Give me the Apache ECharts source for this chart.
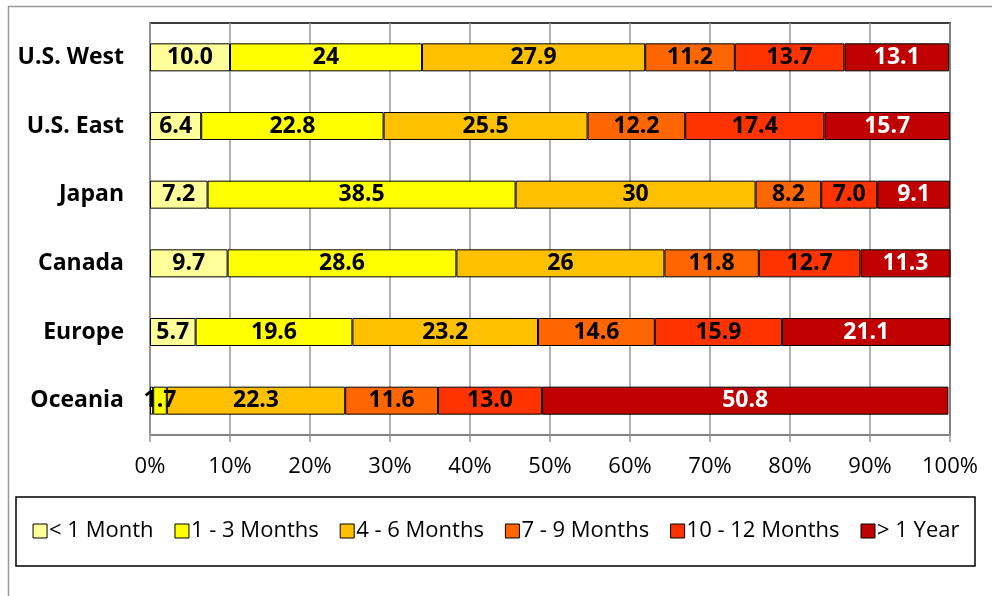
<!DOCTYPE html>
<html><head><meta charset="utf-8">
<script src="https://cdn.jsdelivr.net/npm/echarts@6/dist/echarts.min.js"></script>
<style>html,body{margin:0;padding:0;background:#fff}#c{width:992px;height:596px}</style>
</head><body><div id="c"></div>
<script>
const categories = ['U.S. West', 'U.S. East', 'Japan', 'Canada', 'Europe', 'Oceania'];
const seriesNames = ['< 1 Month', '1 - 3 Months', '4 - 6 Months', '7 - 9 Months', '10 - 12 Months', '> 1 Year'];
const lessThan1Month = [10.0, 6.4, 7.2, 9.7, 5.7, 0.4];
const months1to3 = [24, 22.8, 38.5, 28.6, 19.6, 1.7];
const months4to6 = [27.9, 25.5, 30, 26, 23.2, 22.3];
const months7to9 = [11.2, 12.2, 8.2, 11.8, 14.6, 11.6];
const months10to12 = [13.7, 17.4, 7.0, 12.7, 15.9, 13.0];
const moreThan1Year = [13.1, 15.7, 9.1, 11.3, 21.1, 50.8];
const labelTexts = [
  ['10.0', '6.4', '7.2', '9.7', '5.7', ''],
  ['24', '22.8', '38.5', '28.6', '19.6', '1.7'],
  ['27.9', '25.5', '30', '26', '23.2', '22.3'],
  ['11.2', '12.2', '8.2', '11.8', '14.6', '11.6'],
  ['13.7', '17.4', '7.0', '12.7', '15.9', '13.0'],
  ['13.1', '15.7', '9.1', '11.3', '21.1', '50.8']
];
const xTicks = [0, 10, 20, 30, 40, 50, 60, 70, 80, 90, 100];
const colors = ['#FFFF99', '#FFFF00', '#FFC000', '#FF6600', '#FF3300', '#C00000'];
const allData = [lessThan1Month, months1to3, months4to6, months7to9, months10to12, moreThan1Year];

const chart = echarts.init(document.getElementById('c'), null, {renderer: 'canvas'});
const font = "'Open Sans', 'Liberation Sans', sans-serif";
chart.setOption({
  animation: false,
  textStyle: {fontFamily: font},
  grid: {left: 150, right: 42, top: 23, bottom: 161, show: true, borderColor: '#000', borderWidth: 1.5, backgroundColor: 'transparent'},
  legend: {
    data: seriesNames,
    left: 'center', top: 515,
    itemWidth: 14, itemHeight: 14, itemGap: 21,
    icon: 'rect',
    textStyle: {fontFamily: font, fontSize: 22, color: '#000', padding: [0,0,0,-3]},
    itemStyle: {borderColor: '#000', borderWidth: 1}
  },
  graphic: [
    {type: 'rect', shape: {x: 8.5, y: 6.5, width: 1100, height: 700}, style: {fill: 'none', stroke: '#999', lineWidth: 1.5}, z: -1},
    {type: 'rect', shape: {x: 16, y: 497, width: 959, height: 69}, style: {fill: 'none', stroke: '#000', lineWidth: 1.5}, z: -1}
  ],
  xAxis: {
    type: 'value', min: xTicks[0], max: xTicks[xTicks.length - 1], interval: 10,
    axisLine: {show: true, lineStyle: {color: '#999', width: 1.5}},
    axisTick: {show: true, length: 7, lineStyle: {color: '#999', width: 1.5}},
    splitLine: {show: true, lineStyle: {color: '#999', width: 1.5}},
    axisLabel: {formatter: '{value}%', fontSize: 22, color: '#000', margin: 21, fontFamily: font}
  },
  yAxis: {
    type: 'category', data: categories, inverse: true,
    axisLine: {show: true, lineStyle: {color: '#999', width: 1.5}},
    axisTick: {show: false},
    axisLabel: {fontSize: 23, fontWeight: 'bold', color: '#000', margin: 26, fontFamily: font}
  },
  series: allData.map((d, i) => ({
    name: seriesNames[i], type: 'bar', stack: 'total', data: d, barWidth: 28,
    itemStyle: {color: colors[i], borderColor: '#000', borderWidth: 1},
    label: {
      show: true, position: 'inside', fontSize: 23, fontWeight: 'bold', fontFamily: font,
      color: i === 5 ? '#fff' : '#000',
      formatter: p => labelTexts[i][p.dataIndex]
    }
  }))
});
</script></body></html>
